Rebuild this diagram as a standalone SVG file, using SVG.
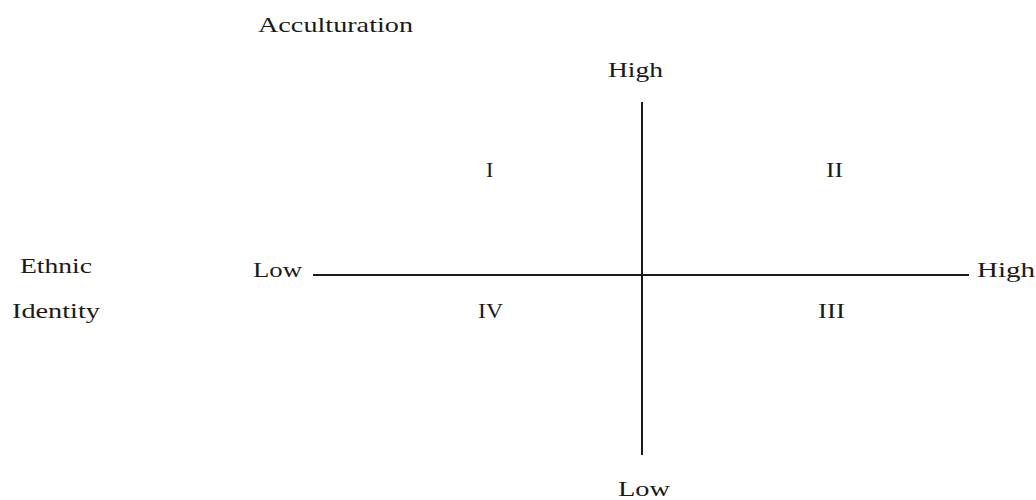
<svg xmlns="http://www.w3.org/2000/svg" width="1036" height="500" viewBox="0 0 1036 500">
<style>
text{font-family:"Liberation Serif","Times New Roman",serif;font-size:22px;fill:#1a1a1a}
.axis{stroke:#1a1a1a;stroke-width:2;fill:none}
</style>
<rect width="1036" height="500" fill="#ffffff"/>
<g id="connectors">
<line class="axis" x1="313" y1="275" x2="969" y2="275"/>
<line class="axis" x1="642" y1="102" x2="642" y2="455"/>
</g>
<g id="title"><text x="258" y="32" textLength="155" lengthAdjust="spacingAndGlyphs">Acculturation</text></g>
<g id="acc-high"><text x="608" y="77" textLength="55" lengthAdjust="spacingAndGlyphs">High</text></g>
<g id="acc-low"><text x="618" y="496" textLength="52" lengthAdjust="spacingAndGlyphs">Low</text></g>
<g id="eth-label"><text x="20" y="273" textLength="72" lengthAdjust="spacingAndGlyphs">Ethnic</text><text x="12" y="318" textLength="88" lengthAdjust="spacingAndGlyphs">Identity</text></g>
<g id="eth-low"><text x="253" y="277" textLength="49" lengthAdjust="spacingAndGlyphs">Low</text></g>
<g id="eth-high"><text x="977" y="277" textLength="58" lengthAdjust="spacingAndGlyphs">High</text></g>
<g id="q1"><text x="486" y="177">I</text></g>
<g id="q2"><text x="826" y="177" textLength="17" lengthAdjust="spacingAndGlyphs">II</text></g>
<g id="q3"><text x="818" y="318" textLength="27" lengthAdjust="spacingAndGlyphs">III</text></g>
<g id="q4"><text x="478" y="318" textLength="25" lengthAdjust="spacingAndGlyphs">IV</text></g>
</svg>
